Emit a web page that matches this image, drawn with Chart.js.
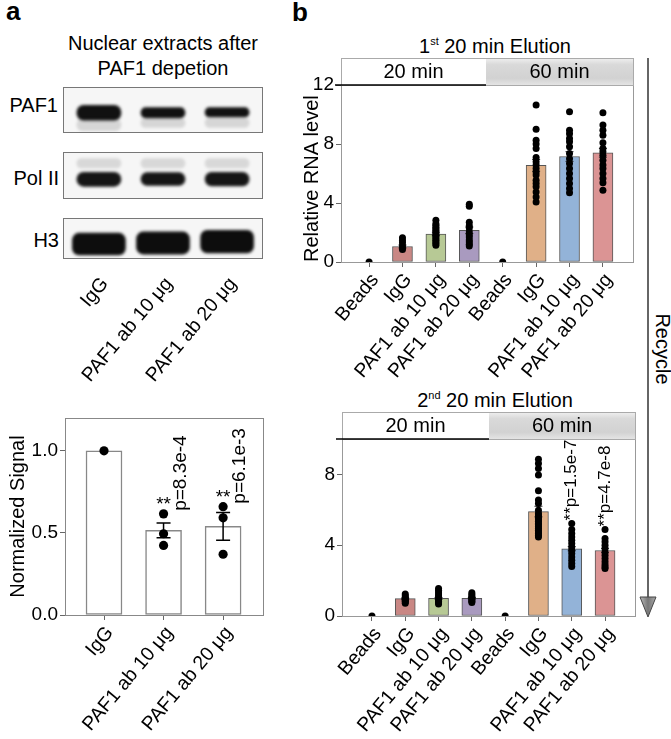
<!DOCTYPE html>
<html>
<head>
<meta charset="utf-8">
<script src="https://cdn.jsdelivr.net/npm/chart.js"></script>
<style>
  body { margin: 0; background: #fff; }
  #fig { position: relative; width: 671px; height: 739px; font-family: 'Liberation Sans', Arial, sans-serif; color: #000; overflow: hidden; }
  #fig canvas, #fig .txt, #fig svg { position: absolute; }
  .txt { white-space: nowrap; }
  .panel { font-weight: bold; font-size: 26px; line-height: 26px; }
  .lbl { font-size: 20px; line-height: 20px; }
  sup { font-size: 11px; line-height: 0; vertical-align: 8px; }
</style>
</head>
<body>
<div id="fig">
  <div class="txt panel" style="left:6px; top:-2px;">a</div>
  <div class="txt panel" style="left:292px; top:-1px;">b</div>

  <div class="txt lbl" style="left:43px; top:31px; width:240px; text-align:center; line-height:25px;">Nuclear extracts after<br>PAF1 depetion</div>
  <div class="txt lbl" style="left:0; top:95px; width:58px; text-align:right;">PAF1</div>
  <div class="txt lbl" style="left:0; top:168px; width:59px; text-align:right;">Pol II</div>
  <div class="txt lbl" style="left:0; top:230px; width:59px; text-align:right;">H3</div>

  <div class="txt lbl" style="left:375px; top:36px; width:240px; text-align:center;">1<sup>st</sup> 20 min Elution</div>
  <div class="txt lbl" style="left:375px; top:390px; width:240px; text-align:center;">2<sup>nd</sup> 20 min Elution</div>
  <div class="txt lbl" style="left:627px; top:339px; width:72px; text-align:center; transform:rotate(90deg);">Recycle</div>

  <canvas id="blotPaf1" style="left:63px; top:87px;" width="200" height="46"></canvas>
  <canvas id="blotPol" style="left:63px; top:152px;" width="200" height="47"></canvas>
  <canvas id="blotH3" style="left:63px; top:218px;" width="200" height="170"></canvas>

  <canvas id="chartA" style="left:0; top:400px;" width="280" height="339"></canvas>
  <canvas id="chartB1" style="left:280px; top:0;" width="360" height="392"></canvas>
  <canvas id="chartB2" style="left:280px; top:390px;" width="360" height="349"></canvas>

  <svg style="left:630px; top:50px;" width="40" height="580">
    <defs>
      <linearGradient id="ag" x1="0" x2="1" y1="0" y2="0">
        <stop offset="0" stop-color="#bbb"/><stop offset="0.5" stop-color="#777"/><stop offset="1" stop-color="#aaa"/>
      </linearGradient>
    </defs>
    <line x1="18" y1="8" x2="18" y2="555" stroke="#333" stroke-width="1.5"/>
    <polygon points="10,547 26,547 18,567" fill="url(#ag)" stroke="#444" stroke-width="1"/>
  </svg>
</div>

<script>
  Chart.defaults.font.family = "'Liberation Sans', Arial, sans-serif";
  Chart.defaults.color = '#000';
  Chart.defaults.animation = false;

  // ---- panel a: western blot lanes
  const lanes = ['IgG', 'PAF1 ab 10 μg', 'PAF1 ab 20 μg'];
  const paf1Bands = [[0.28, 0.6], [0.33, 0.55], [0.35, 0.55]];
  const paf1Smear = [[0.05, 0.3], [0.12, 0.32], [0.12, 0.33]];
  const polBands = [[0.27, 0.57], [0.29, 0.56], [0.28, 0.57]];
  const polFaint = [[0.66, 0.86], [0.66, 0.86], [0.66, 0.86]];
  const h3Bands = [[0.1, 0.63], [0.12, 0.66], [0.15, 0.7]];

  // ---- panel a: quantification
  const aCats = ['IgG', 'PAF1 ab 10 μg', 'PAF1 ab 20 μg'];
  const aMean = [1.0, 0.515, 0.54];
  const aSem = [0, 0.045, 0.085];
  const aDots = [[1.0], [0.616, 0.495, 0.424], [0.66, 0.592, 0.37]];
  const aSig = ['', 'p=8.3e-4', 'p=6.1e-3'];
  const aTicks = [0, 0.5, 1.0];

  // ---- panel b
  const bCats = ['Beads', 'IgG', 'PAF1 ab 10 μg', 'PAF1 ab 20 μg', 'Beads', 'IgG', 'PAF1 ab 10 μg', 'PAF1 ab 20 μg'];
  const bColors = ['#ffffff', '#c98784', '#b7c995', '#a99abf', '#ffffff', '#e0b088', '#93b3d8', '#db9494'];
  const stripLabels = ['20 min', '60 min'];

  const b1Mean = [0, 1.05, 1.9, 2.15, 0, 6.55, 7.15, 7.4];
  const b1Sem = [0, 0.1, 0.12, 0.22, 0, 0.4, 0.33, 0.3];
  const b1Dots = [
    [0],
    [1.65, 1.45, 1.3, 1.1, 0.95, 0.84],
    [2.83, 2.6, 2.49, 2.35, 2.26, 2.15, 2.04, 1.92, 1.81, 1.7, 1.58, 1.47, 1.36, 1.25, 1.13],
    [3.92, 3.78, 2.7, 2.45, 2.3, 2.04, 1.85, 1.7, 1.5, 1.36, 1.2, 1.09],
    [0],
    [10.64, 9.0, 8.26, 8.0, 7.7, 7.09, 6.8, 6.57, 6.34, 6.1, 5.9, 5.55, 5.32, 5.1, 4.75, 4.4, 4.07],
    [10.19, 8.94, 8.7, 8.38, 8.15, 7.81, 7.36, 7.0, 6.68, 6.34, 6.0, 5.66, 5.32, 4.98, 4.69],
    [10.12, 9.28, 8.94, 8.6, 8.08, 7.7, 7.47, 7.24, 6.9, 6.57, 6.34, 6.0, 5.66, 5.37, 4.87]
  ];
  const b1Ticks = [0, 4, 8, 12];

  const b2Mean = [0, 0.98, 1.0, 1.0, 0, 5.9, 3.8, 3.7];
  const b2Sem = [0, 0.03, 0.05, 0.04, 0, 0.3, 0.12, 0.12];
  const b2Dots = [
    [0],
    [1.25, 1.15, 1.05, 1.0, 0.95, 0.9, 0.85, 0.8, 0.72],
    [1.55, 1.45, 1.35, 1.25, 1.15, 1.05, 0.98, 0.9, 0.82, 0.75, 0.68],
    [1.32, 1.22, 1.12, 1.05, 0.98, 0.9, 0.83, 0.76],
    [0],
    [8.85, 8.62, 8.34, 7.96, 7.08, 6.55, 6.36, 5.98, 5.79, 5.7, 5.6, 5.5, 5.42, 5.35, 5.23, 5.15, 5.04, 4.95, 4.85, 4.75, 4.66, 4.55, 4.47],
    [5.23, 4.89, 4.66, 4.47, 4.28, 4.09, 3.9, 3.72, 3.53, 3.34, 3.15, 2.96, 2.8],
    [4.89, 4.38, 4.19, 4.0, 3.81, 3.62, 3.43, 3.25, 3.06, 2.9, 2.77, 2.68]
  ];
  const b2Sig = ['', '', '', '', '', '', '**p=1.5e-7', '**p=4.7e-8'];
  const b2Ticks = [0, 4, 8];

  // helpers
  const asPoints = (vals) => vals.map((v, i) => ({ x: i, y: v }));
  const dotPoints = (groups) => groups.flatMap((g, i) => g.map(v => ({ x: i, y: v })));
  const setTicks = (list) => (scale) => { scale.ticks = list.map(v => ({ value: v })); };

  // frame round the plot area
  const framePlugin = {
    id: 'frame',
    afterDraw(chart, args, o) {
      if (!o.color) return;
      const { left, top, right, bottom } = chart.chartArea;
      const ctx = chart.ctx;
      ctx.save();
      ctx.strokeStyle = o.color;
      ctx.lineWidth = 1;
      ctx.strokeRect(Math.round(left) + 0.5, Math.round(top) + 0.5, Math.round(right - left), Math.round(bottom - top));
      ctx.restore();
    }
  };

  // error bars for bar datasets carrying a sem array
  const errPlugin = {
    id: 'errbars',
    afterDatasetDraw(chart, args, o) {
      const ds = chart.data.datasets[args.index];
      if (!ds.sem) return;
      const ctx = chart.ctx, ys = chart.scales.y;
      ctx.save();
      ctx.strokeStyle = o.color || '#000';
      ctx.lineWidth = o.width || 1;
      args.meta.data.forEach((bar, i) => {
        const s = ds.sem[i];
        if (!s) return;
        const m = ds.data[i].y;
        const y1 = ys.getPixelForValue(m + s), y0 = ys.getPixelForValue(m - s);
        ctx.beginPath();
        ctx.moveTo(bar.x, y0); ctx.lineTo(bar.x, y1);
        ctx.moveTo(bar.x - o.cap, y1); ctx.lineTo(bar.x + o.cap, y1);
        ctx.moveTo(bar.x - o.cap, y0); ctx.lineTo(bar.x + o.cap, y0);
        ctx.stroke();
      });
      ctx.restore();
    }
  };

  // significance labels
  const sigPlugin = {
    id: 'sig',
    afterDatasetsDraw(chart, args, o) {
      if (!o.labels) return;
      const ctx = chart.ctx, xs = chart.scales.x, ys = chart.scales.y;
      o.labels.forEach((t, i) => {
        if (!t) return;
        const topVal = Math.max(...o.dots[i], o.mean[i] + o.sem[i]);
        const x = xs.getPixelForValue(i), y = ys.getPixelForValue(topVal);
        ctx.save();
        ctx.fillStyle = '#000';
        if (o.stars) {
          ctx.font = o.starFont;
          ctx.textAlign = 'center';
          ctx.textBaseline = 'alphabetic';
          ctx.fillText(o.stars, x, y + o.starDy);
        }
        ctx.font = o.font;
        ctx.translate(x + o.dx, y + o.dy);
        ctx.rotate(-Math.PI / 2);
        ctx.textAlign = 'left';
        ctx.textBaseline = 'middle';
        ctx.fillText(t, 0, 0);
        ctx.restore();
      });
    }
  };

  // "20 min | 60 min" strip above the plot
  const stripPlugin = {
    id: 'strip',
    afterDraw(chart, args, o) {
      if (!o.labels) return;
      const ctx = chart.ctx, { left, right, top } = chart.chartArea;
      const xs = chart.scales.x;
      const mid = Math.round(xs.getPixelForValue(o.split));
      const h = o.height, t0 = top - h;
      ctx.save();
      ctx.fillStyle = '#fff';
      ctx.fillRect(left, t0, mid - left, h);
      const g = ctx.createLinearGradient(0, t0, 0, top);
      g.addColorStop(0, '#f0f0f0');
      g.addColorStop(0.25, '#d9d9d9');
      g.addColorStop(0.75, '#d2d2d2');
      g.addColorStop(1, '#e4e4e4');
      ctx.fillStyle = g;
      ctx.fillRect(mid, t0, right - mid, h);
      ctx.strokeStyle = '#aaa';
      ctx.lineWidth = 1;
      ctx.strokeRect(Math.round(left) + 0.5, t0 + 0.5, Math.round(right - left), h);
      ctx.strokeStyle = '#000';
      ctx.lineWidth = 1.5;
      ctx.beginPath();
      ctx.moveTo(left - 6, top); ctx.lineTo(mid, top);
      ctx.stroke();
      ctx.fillStyle = '#000';
      ctx.font = o.font;
      ctx.textAlign = 'center';
      ctx.textBaseline = 'middle';
      ctx.fillText(o.labels[0], (left + mid) / 2, t0 + h / 2 + 1);
      ctx.fillText(o.labels[1], (mid + right) / 2, t0 + h / 2 + 1);
      ctx.restore();
    }
  };

  // blot background, blur and frame
  const blotPlugin = {
    id: 'blot',
    beforeDatasetsDraw(chart, args, o) {
      if (!o.on) return;
      const ctx = chart.ctx, { left, top, right, bottom } = chart.chartArea;
      ctx.fillStyle = '#f6f6f6';
      ctx.fillRect(left, top, right - left, bottom - top);
      ctx.save();
      ctx.filter = 'blur(1.6px)';
    },
    afterDatasetsDraw(chart, args, o) {
      if (!o.on) return;
      const ctx = chart.ctx, { left, top, right, bottom } = chart.chartArea;
      ctx.restore();
      ctx.strokeStyle = '#777';
      ctx.lineWidth = 1;
      ctx.strokeRect(left + 0.5, top + 0.5, right - left - 1, bottom - top - 1);
    }
  };

  Chart.register(framePlugin, errPlugin, sigPlugin, stripPlugin, blotPlugin);

  const tickFont = { size: 19 };
  const xTickFont = { size: 19.5 };
  const titleFont = { size: 20 };
  const xRot = 50;

  function blot(id, sets, withAxis) {
    const datasets = sets.map(s => ({
      data: s.bands.map((b, i) => ({ x: i, y: b })),
      backgroundColor: s.color,
      barThickness: s.width,
      borderRadius: 7,
      borderSkipped: false,
      grouped: false
    }));
    const x = {
      type: 'linear', min: -0.56, max: 2.56, offset: false, display: withAxis,
      afterBuildTicks: setTicks([0, 1, 2]),
      grid: { display: false }, border: { display: false },
      ticks: { autoSkip: false, minRotation: xRot, maxRotation: xRot, padding: 6, labelOffset: 6, font: xTickFont, callback: (v) => lanes[v] }
    };
    if (withAxis) x.afterFit = (s) => { s.height = 129; };
    return new Chart(document.getElementById(id), {
      type: 'bar',
      data: { datasets },
      options: {
        responsive: false,
        layout: { padding: 0 },
        plugins: { legend: { display: false }, tooltip: { enabled: false }, blot: { on: true } },
        scales: { x, y: { min: 0, max: 1, display: false } }
      }
    });
  }

  blot('blotPaf1', [
    { bands: paf1Smear, color: 'rgba(0,0,0,0.13)', width: 44 },
    { bands: paf1Bands, color: '#111', width: 44 }
  ], false);
  blot('blotPol', [
    { bands: polFaint, color: 'rgba(0,0,0,0.12)', width: 44 },
    { bands: polBands, color: '#151515', width: 44 }
  ], false);
  blot('blotH3', [
    { bands: h3Bands, color: '#0d0d0d', width: 53 }
  ], true);

  function axisX(min, max, cats, height) {
    return {
      type: 'linear', min, max, offset: false,
      afterBuildTicks: setTicks(cats.map((c, i) => i)),
      afterFit: (s) => { s.height = height; },
      grid: { display: true, drawOnChartArea: false, drawTicks: true, tickLength: 5, color: '#666', offset: false },
      border: { display: true, color: '#888' },
      ticks: { autoSkip: false, minRotation: xRot, maxRotation: xRot, padding: 2, labelOffset: 6, font: xTickFont, callback: (v) => cats[v] }
    };
  }

  function axisY(max, ticks, width, fmt, title, titlePad, titleAlign) {
    return {
      min: 0, max,
      afterBuildTicks: setTicks(ticks),
      afterFit: (s) => { s.width = width; },
      grid: { display: true, drawOnChartArea: false, drawTicks: true, tickLength: 5, color: '#666' },
      border: { display: true, color: '#888' },
      ticks: { padding: 2, font: tickFont, callback: fmt },
      title: { display: !!title, text: title, font: titleFont, align: titleAlign, padding: { top: titlePad, bottom: 0 } }
    };
  }

  // panel a bar chart
  new Chart(document.getElementById('chartA'), {
    type: 'bar',
    data: {
      datasets: [
        { type: 'scatter', data: dotPoints(aDots), pointRadius: 4.6, pointBackgroundColor: '#000', pointBorderWidth: 0, order: 0 },
        { data: asPoints(aMean), sem: aSem, backgroundColor: '#fff', borderColor: '#888', borderWidth: 1.5, borderSkipped: false, barThickness: 36, grouped: false, order: 1 }
      ]
    },
    options: {
      responsive: false,
      layout: { padding: { left: 0, right: 17, top: 18, bottom: 0 } },
      plugins: {
        legend: { display: false }, tooltip: { enabled: false },
        frame: { color: '#888' },
        errbars: { color: '#000', width: 1.5, cap: 7 },
        sig: { labels: aSig, dots: aDots, mean: aMean, sem: aSem, stars: '**', starDy: -4, starFont: '19px "Liberation Sans", Arial', font: '19px "Liberation Sans", Arial', dx: 17, dy: -3 }
      },
      scales: {
        x: axisX(-0.655, 2.67, aCats, 124),
        y: axisY(1.2, aTicks, 65, (v) => v.toFixed(1), 'Normalized Signal', 6, 'center')
      }
    }
  });

  function chartB(id, mean, sem, dots, ticks, max, padTop, xmin, xmax, xHeight, yWidth, padRight, title, sig) {
    return new Chart(document.getElementById(id), {
      type: 'bar',
      data: {
        datasets: [
          { type: 'scatter', data: dotPoints(dots), pointRadius: 3.5, pointBackgroundColor: '#000', pointBorderWidth: 0, order: 0 },
          { data: asPoints(mean), sem, backgroundColor: bColors, borderColor: '#555', borderWidth: 1, borderSkipped: false, barThickness: 20, grouped: false, order: 1 }
        ]
      },
      options: {
        responsive: false,
        layout: { padding: { left: 0, right: padRight, top: padTop, bottom: 0 } },
        plugins: {
          legend: { display: false }, tooltip: { enabled: false },
          frame: { color: '#999' },
          errbars: { color: '#333', width: 1, cap: 4 },
          strip: { labels: stripLabels, split: 3.5, height: 27, font: '20px "Liberation Sans", Arial' },
          sig: sig ? { labels: sig, dots, mean, sem, stars: '', font: '17px "Liberation Sans", Arial', dx: 0, dy: -3 } : {}
        },
        scales: {
          x: axisX(xmin, xmax, bCats, xHeight),
          y: axisY(max, ticks, yWidth, (v) => String(v), title, 20, 'start')
        }
      }
    });
  }

  chartB('chartB1', b1Mean, b1Sem, b1Dots, b1Ticks, 12, 85, -0.84, 7.9, 130, 61, 7, 'Relative RNA level', null);
  chartB('chartB2', b2Mean, b2Sem, b2Dots, b2Ticks, 10, 49, -0.9, 7.9, 123, 62, 5, '', b2Sig);
</script>
</body>
</html>
